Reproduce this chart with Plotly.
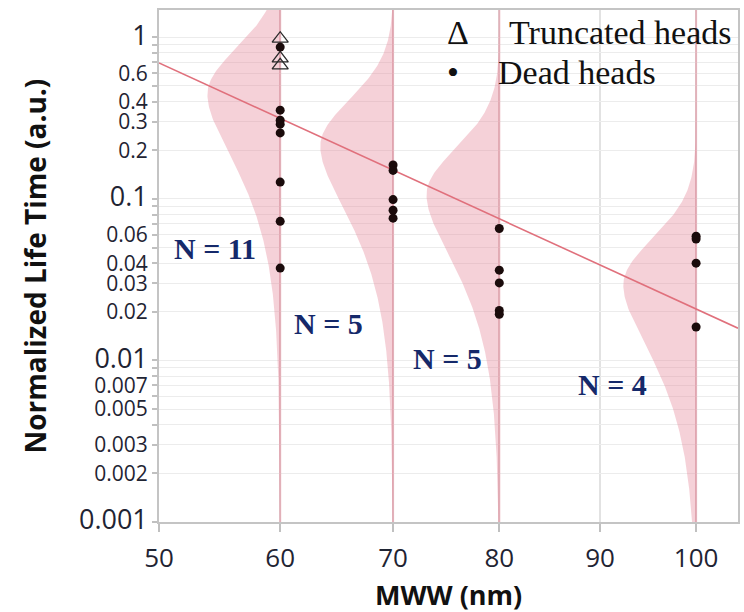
import numpy as np
import plotly.graph_objects as go

# ---- data -------------------------------------------------------------
mww_groups = [60, 70, 80, 100]
group_counts = [11, 5, 5, 4]

dead_mww = [60, 60, 60, 60, 60, 60, 60, 60,
            70, 70, 70, 70, 70,
            80, 80, 80, 80, 80,
            100, 100, 100, 100]
dead_life = [0.87, 0.354, 0.307, 0.290, 0.256, 0.127, 0.0726, 0.0373,
             0.162, 0.150, 0.099, 0.085, 0.076,
             0.0656, 0.0362, 0.0302, 0.0204, 0.0193,
             0.0588, 0.0564, 0.0400, 0.0161]

truncated_mww = [60, 60, 60]
truncated_life = [0.98, 0.74, 0.67]

x_ticks = [50, 60, 70, 80, 90, 100]
y_labels = {1: "1", 0.6: "0.6", 0.4: "0.4", 0.3: "0.3", 0.2: "0.2",
            0.1: "0.1", 0.06: "0.06", 0.04: "0.04", 0.03: "0.03", 0.02: "0.02",
            0.01: "0.01", 0.007: "0.007", 0.005: "0.005", 0.003: "0.003",
            0.002: "0.002", 0.001: "0.001"}

# life model: log10(life) = intercept + slope * (MWW ** power)
power = 0.576
fit_intercept = 2.946
fit_slope = -0.3261
mode_offset = 0.15          # density peak above the fitted line (decades)
sigma_upper = 0.284         # upper half of density (decades)
sigma_lower = 0.36          # lower half, widened along the tail
tail_growth = 1.28
density_width = 0.633       # peak width of the density shapes (axis units)

x_lo, x_hi = 50, 104.5
y_lo, y_hi = -3.0, 0.169


def tx(x):
    return np.power(np.asarray(x, dtype=float), power)


def fit_log10(x):
    return fit_intercept + fit_slope * tx(x)


def density_shape(d):
    up = np.exp(-d ** 2 / (2 * sigma_upper ** 2))
    lo = np.exp(-d ** 2 / (2 * sigma_lower ** 2 * (1 + tail_growth * np.abs(d))))
    return np.where(d >= 0, up, lo)


fig = go.Figure()

fill_col = "rgba(228,128,146,0.36)"
base_col = "rgba(226,140,155,0.55)"

v = np.linspace(y_lo, y_hi, 400)
for g in mww_groups:
    tg = float(tx(g))
    mode = float(fit_log10(g)) + mode_offset
    w = density_width * density_shape(v - mode)
    xs = np.concatenate([tg - w, np.full_like(v, tg)[::-1]])
    ys = np.concatenate([10 ** v, (10 ** v)[::-1]])
    fig.add_trace(go.Scatter(x=xs, y=ys, mode="lines", fill="toself",
                             fillcolor=fill_col, line=dict(width=0),
                             hoverinfo="skip", showlegend=False))
    fig.add_trace(go.Scatter(x=[tg, tg], y=[10 ** y_lo, 10 ** y_hi], mode="lines",
                             line=dict(color=base_col, width=2),
                             hoverinfo="skip", showlegend=False))

# fitted line
xl = np.linspace(x_lo, x_hi, 50)
fig.add_trace(go.Scatter(x=tx(xl), y=10 ** fit_log10(xl), mode="lines",
                         line=dict(color="#e0707c", width=1.6),
                         showlegend=False))

fig.add_trace(go.Scatter(x=tx(truncated_mww), y=truncated_life, mode="markers",
                         marker=dict(symbol="triangle-up-open", size=14,
                                     color="#2a2a2a", line=dict(width=1.3)),
                         showlegend=False))
fig.add_trace(go.Scatter(x=tx(dead_mww), y=dead_life, mode="markers",
                         marker=dict(symbol="circle", size=9, color="#1a0b0b"),
                         showlegend=False))

# ---- axes -------------------------------------------------------------
tick_vals = []
tick_text = []
for e in range(-3, 1):
    for k in range(1, 10):
        val = round(k * 10.0 ** e, 6)
        if val > 1:
            continue
        tick_vals.append(val)
        lab = ""
        for key, s in y_labels.items():
            if abs(key - val) < 1e-9:
                lab = s
        if k == 1:
            lab = '<span style="font-size:27px">%s</span>' % lab
        tick_text.append(lab)

fig.update_yaxes(type="log", range=[y_lo, y_hi], tickvals=tick_vals, ticktext=tick_text,
                 ticks="outside", ticklen=5, tickwidth=1.5, tickcolor="#c0c0c0",
                 showgrid=True, gridcolor="#ececec", gridwidth=1,
                 showline=True, linecolor="#c4c4c4", linewidth=2, mirror=True,
                 zeroline=False,
                 tickfont=dict(family="Open Sans", size=21, color="#1f2433"))
fig.update_xaxes(range=[float(tx(x_lo)), float(tx(x_hi))], tickvals=tx(x_ticks),
                 ticktext=[str(t) for t in x_ticks],
                 ticks="outside", ticklen=8, tickwidth=1.5, tickcolor="#c0c0c0",
                 ticklabelstandoff=4,
                 showgrid=True, gridcolor="#e2e2e2", gridwidth=1.5,
                 showline=True, linecolor="#c4c4c4", linewidth=2, mirror=True,
                 zeroline=False,
                 tickfont=dict(family="Open Sans", size=26, color="#1f2433"))

shapes = []
for e in range(-3, 1):
    shapes.append(dict(type="line", xref="paper", yref="y", x0=0, x1=1, y0=e, y1=e,
                       line=dict(color="#d2d2d2", width=1.5), layer="below"))
    shapes.append(dict(type="line", xref="paper", yref="y", x0=-9 / 581, x1=0, y0=e, y1=e,
                       line=dict(color="#c0c0c0", width=1.5)))

plot_w, plot_h, left, bottom = 581.0, 511.7, 159.0, 521.7


def px(xp):
    return (xp - left) / plot_w


def py(yp):
    return (bottom - yp) / plot_h


def label(xp, yp, text, font, anchor="center", angle=0):
    return dict(x=px(xp), y=py(yp), xref="paper", yref="paper", showarrow=False,
                xanchor=anchor, yanchor="middle", text=text, font=font,
                textangle=angle)


title_font = dict(family="Open Sans", size=28, color="#111111")
serif = "Liberation Serif"
legend_font = dict(family=serif, size=34, color="#111111")
n_font = dict(family=serif, size=30, color="#15296a")

ann = [
    label(35, 266, "<b>Normalized Life Time (a.u.)</b>", title_font, angle=-90),
    label(450, 594, "<b>MWW (nm)</b>", dict(title_font, size=27)),
    label(459, 32.5, "Δ", legend_font),
    label(508, 32.5, "Truncated heads", legend_font, anchor="left"),
    label(454, 72.5, "•", legend_font),
    label(497, 72.5, "Dead heads", legend_font, anchor="left"),
]

n_pos = [(215, 248), (329, 323), (448, 358), (614.5, 384)]
for (xp, yp), n in zip(n_pos, group_counts):
    ann.append(label(xp, yp, "<b>N = %d</b>" % n, n_font))

fig.update_layout(width=744, height=612, margin=dict(l=159, r=4, t=10, b=90),
                  plot_bgcolor="white", paper_bgcolor="white",
                  showlegend=False, shapes=shapes, annotations=ann)

fig.write_html("out.html")
